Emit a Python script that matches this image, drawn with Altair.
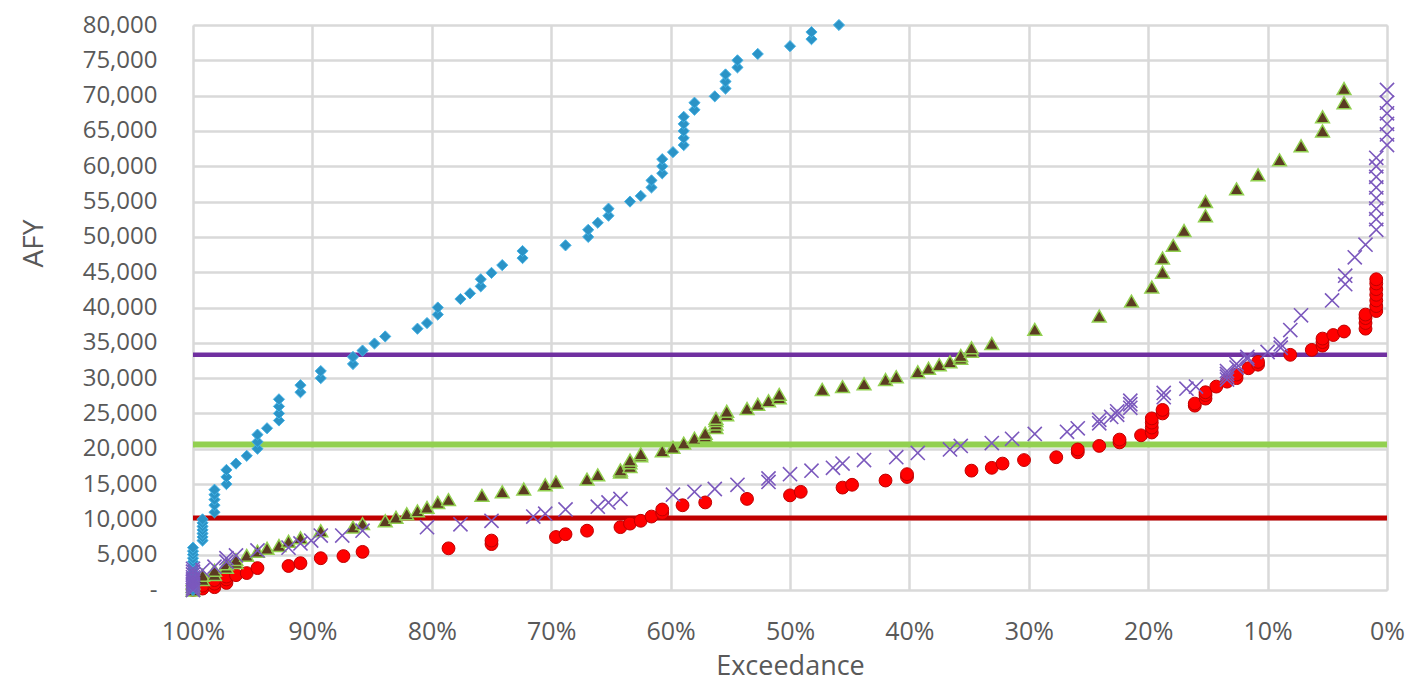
import altair as alt
import pandas as pd

# ---------------- data ----------------
blue_x = [100, 100, 100, 100, 100, 100, 100, 100, 100, 100, 100, 100, 100,
          99.2, 99.2, 99.2, 99.2, 99.2, 99.2, 99.2,
          98.2, 98.2, 98.2, 98.2, 98.2,
          97.2, 97.2, 97.2, 96.4, 95.5, 94.6, 94.6, 94.6, 93.8,
          92.8, 92.8, 92.8, 92.8, 91.0, 91.0, 89.3, 89.3, 86.6, 86.6,
          85.8, 84.8, 83.9, 81.2, 80.4, 79.5, 79.5, 77.6, 76.8, 75.9, 75.9,
          75.0, 74.1, 72.4, 72.4, 68.8, 66.9, 66.9, 66.1, 65.2, 65.2,
          63.4, 62.5, 61.6, 61.6, 60.7, 60.7, 60.7, 59.8,
          58.9, 58.9, 58.9, 58.9, 58.9, 58.0, 58.0, 56.3,
          55.4, 55.4, 55.4, 54.4, 54.4, 52.7, 50.0, 48.2, 48.2, 45.9]
blue_y = [0, 500, 1000, 1500, 2000, 2500, 3000, 3500, 4000, 4500, 5000, 5500, 6000,
          7000, 7500, 8000, 8500, 9000, 9500, 10000,
          11000, 12000, 12800, 13500, 14200,
          15000, 16000, 17000, 17900, 19000, 20000, 21000, 22000, 22900,
          24000, 25000, 26000, 27000, 28000, 29000, 30000, 31000, 32000, 33000,
          33900, 34900, 35900, 37000, 37800, 39000, 40000, 41200, 42000, 43000, 44000,
          44900, 46000, 47000, 48000, 48800, 50000, 51000, 52000, 53000, 54000,
          55000, 55800, 57000, 58000, 59000, 60000, 61000, 62000,
          63000, 64000, 65000, 66000, 67000, 68000, 69000, 69900,
          71000, 72000, 73000, 74000, 75000, 75900, 77000, 78000, 79000, 80000]

green_x = [100, 100, 100, 100, 99.2, 99.2, 98.2, 98.2, 97.2, 97.2, 96.4, 96.4,
           95.5, 94.6, 93.8, 92.8, 92.0, 91.0, 89.3, 86.6, 85.8, 83.9, 83.0,
           82.1, 81.2, 80.4, 79.5, 78.6, 75.8, 74.1, 72.3, 70.5, 69.6, 67.0,
           66.1, 64.2, 64.2, 63.4, 63.4, 63.4, 62.5, 62.5, 60.7, 59.8, 58.9,
           58.0, 57.1, 57.1, 56.2, 56.2, 56.2, 56.2, 55.3, 55.3, 53.6, 52.7,
           51.8, 50.9, 50.9, 47.3, 45.6, 43.8, 42.0, 41.1, 39.3, 38.4, 37.5,
           36.6, 35.7, 35.7, 34.8, 34.8, 33.1, 29.5, 24.1, 21.4, 19.7, 18.8,
           18.8, 17.9, 17.0, 15.2, 15.2, 12.6, 10.8, 9.0, 7.2, 5.4, 5.4, 3.6, 3.6]
green_y = [0, 500, 1000, 1500, 1500, 2100, 2200, 2800, 3200, 3700, 3900, 4300,
           4900, 5500, 5900, 6300, 6900, 7400, 8400, 8900, 9400, 9800, 10300,
           10800, 11200, 11700, 12400, 12800, 13400, 13900, 14300, 14900, 15300, 15700,
           16300, 16700, 17000, 17500, 18000, 18400, 19000, 19300, 19700, 20200, 20800,
           21500, 21800, 22200, 23000, 23500, 24000, 24300, 24800, 25300, 25700, 26300,
           26800, 27200, 27700, 28400, 28800, 29200, 29800, 30200, 30900, 31400, 31900,
           32300, 32800, 33200, 33800, 34300, 34900, 36900, 38800, 40900, 42900, 45000,
           47000, 48800, 50900, 53000, 55000, 56800, 58800, 60900, 62900, 65000, 67000, 69000, 71000]

purple_x = [100, 100, 100, 100, 100, 100, 100, 100, 100, 100, 99.2, 98.2,
            97.2, 97.2, 96.4, 94.6, 92.0, 91.0, 90.1, 89.3, 87.5, 85.8, 80.4,
            77.6, 75.0, 71.5, 70.5, 68.8, 66.1, 65.2, 64.2, 59.8, 58.0, 56.3,
            54.4, 51.8, 51.8, 50.0, 48.2, 46.4, 45.6, 43.8, 41.1, 39.3, 36.6,
            35.7, 33.1, 31.4, 29.5, 26.8, 25.9, 24.1, 24.1, 23.1, 22.6, 22.6,
            21.5, 21.5, 21.5, 18.7, 18.7, 16.8, 16.0, 13.4, 13.4, 13.4, 13.4,
            12.6, 12.6, 11.7, 11.7, 10.0, 8.9, 8.9, 8.1, 7.2, 4.6, 3.5, 3.5,
            2.7, 1.8, 0.9, 0.9, 0.9, 0.9, 0.9, 0.9, 0.9, 0.9,
            0, 0, 0, 0, 0, 0]
purple_y = [0, 300, 600, 900, 1200, 1500, 1800, 2200, 2600, 3000, 2800, 3300,
            4000, 4500, 4900, 5600, 6000, 6600, 7000, 7700, 7700, 8400, 8900,
            9300, 9800, 10400, 10800, 11400, 11800, 12400, 12900, 13500, 13900, 14300,
            14900, 15300, 15800, 16400, 16900, 17300, 17900, 18400, 18800, 19400, 19900,
            20400, 20800, 21400, 22100, 22400, 22900, 23600, 24100, 24500, 24800, 25300,
            25800, 26300, 26800, 27300, 27900, 28500, 28800, 29800, 30200, 30600, 31000,
            31500, 32000, 32700, 33000, 33700, 34300, 34800, 36800, 38900, 41000, 43300, 44500,
            47100, 48900, 51000, 52500, 54000, 55500, 57000, 58500, 60000, 61200,
            63000, 64500, 66000, 67500, 69000, 70800]

red_x = [100, 100, 99.2, 99.2, 98.2, 98.2, 98.2, 97.2, 97.2, 97.2, 96.4, 95.5,
         94.6, 92.0, 91.0, 89.3, 87.4, 85.8, 78.6, 75.0, 75.0, 69.6, 68.8,
         67.0, 64.2, 63.4, 62.5, 61.6, 60.7, 60.7, 59.0, 57.1, 53.6, 50.0,
         49.1, 45.6, 44.8, 42.0, 40.2, 40.2, 34.8, 33.1, 32.2, 30.4, 27.7,
         25.9, 25.9, 24.1, 22.4, 22.4, 20.6, 19.7, 19.7, 19.7, 19.7, 18.8,
         18.8, 16.1, 16.1, 15.2, 15.2, 15.2, 14.3, 13.4, 12.6, 12.6, 11.6,
         10.8, 10.8, 8.1, 6.3, 5.4, 5.4, 5.4, 4.5, 3.6, 1.8, 1.8, 1.8, 1.8,
         0.9, 0.9, 0.9, 0.9, 0.9, 0.9, 0.9]
red_y = [0, 300, 200, 600, 400, 900, 1400, 1000, 1500, 1900, 2100, 2400,
         3100, 3400, 3800, 4500, 4800, 5400, 5900, 6500, 7000, 7500, 7900,
         8400, 8900, 9400, 9800, 10400, 10900, 11400, 12000, 12400, 12900, 13400,
         13900, 14500, 14900, 15500, 16000, 16400, 16900, 17300, 17900, 18400, 18800,
         19500, 19900, 20400, 20900, 21300, 21900, 22300, 23000, 23700, 24300, 25000,
         25500, 26100, 26400, 27100, 27600, 28000, 28800, 29500, 30000, 30500, 31400,
         31900, 32300, 33300, 34000, 34600, 35100, 35600, 36100, 36600, 37000, 37800, 38500, 39000,
         39500, 40200, 41000, 41800, 42600, 43400, 44000]

thresholds = [33300, 20600, 10200]
x_ticks = [0, 10, 20, 30, 40, 50, 60, 70, 80, 90, 100]
y_ticks = [0, 5000, 10000, 15000, 20000, 25000, 30000, 35000, 40000,
           45000, 50000, 55000, 60000, 65000, 70000, 75000, 80000]

# ---------------- chart ----------------
TXT = "#595959"
GRID = "#d9d9d9"
FONT = "Open Sans"

xscale = alt.Scale(domain=[0, 100], reverse=True, nice=False, zero=False)
yscale = alt.Scale(domain=[0, 80000], nice=False)

xaxis = alt.Axis(values=x_ticks, labelExpr="datum.value + '%'", title="Exceedance",
                 grid=True, gridColor=GRID, gridWidth=2.5, domain=False, ticks=False,
                 tickSize=0, labelPadding=29, labelFont=FONT, labelFontSize=25,
                 labelColor=TXT, titleFont=FONT, titleFontSize=27, titleColor=TXT,
                 titleFontWeight="normal", titleBaseline="alphabetic", titleY=84,
                 labelFlush=False)
yaxis = alt.Axis(values=y_ticks,
                 labelExpr="datum.value == 0 ? '-\u00a0\u00a0\u00a0' : format(datum.value, ',')",
                 title="AFY", grid=True, gridColor=GRID, gridWidth=2.5, domain=False,
                 ticks=False, tickSize=0, labelPadding=36, labelFont=FONT, labelFontSize=24,
                 labelColor=TXT, titleFont=FONT, titleFontSize=28, titleColor=TXT,
                 titleFontWeight="normal", titleBaseline="alphabetic", titleAngle=270,
                 titleX=-151, titleY=218, titleAlign="center", labelFlush=False)


def enc(ch):
    return ch.encode(
        x=alt.X("x:Q", scale=xscale, axis=xaxis),
        y=alt.Y("y:Q", scale=yscale, axis=yaxis),
    )


blue_df = pd.DataFrame({"x": blue_x, "y": blue_y})
green_df = pd.DataFrame({"x": green_x, "y": green_y})
purple_df = pd.DataFrame({"x": purple_x, "y": purple_y})
red_df = pd.DataFrame({"x": red_x, "y": red_y})

rule_layers = []
for val, col, w in zip(thresholds, ["#7030a0", "#92d050", "#c00000"], [4.5, 6, 5]):
    rule_layers.append(
        alt.Chart(pd.DataFrame({"y": [val]})).mark_rule(color=col, strokeWidth=w).encode(
            y=alt.Y("y:Q", scale=yscale, axis=yaxis)
        )
    )

red = enc(alt.Chart(red_df).mark_point(shape="circle", filled=True, fill="#ff0000",
                                       stroke="#c00000", strokeWidth=1, size=165, opacity=1))
green = enc(alt.Chart(green_df).mark_point(shape="triangle-up", filled=True, fill="#5b3b22",
                                           stroke="#92d050", strokeWidth=1.5, size=190, opacity=1))
blue = enc(alt.Chart(blue_df).mark_point(shape="diamond", filled=True, fill="#2b93c6",
                                         stroke="#45b3e6", strokeWidth=1, size=125, opacity=1))
purple = enc(alt.Chart(purple_df).mark_point(shape="M-1,-1L1,1M1,-1L-1,1", filled=False,
                                             stroke="#7b58bd", strokeWidth=1.6, size=200, opacity=1))

chart = alt.layer(*rule_layers, red, green, blue, purple).properties(
    width=1194, height=565,
    padding={"left": 185, "top": 17, "right": 25, "bottom": 92},
    autosize=alt.AutoSizeParams(type="none"),
).configure_view(stroke=None).configure(background="white")

chart.save("out.html", embed_options={"renderer": "svg", "actions": False})
